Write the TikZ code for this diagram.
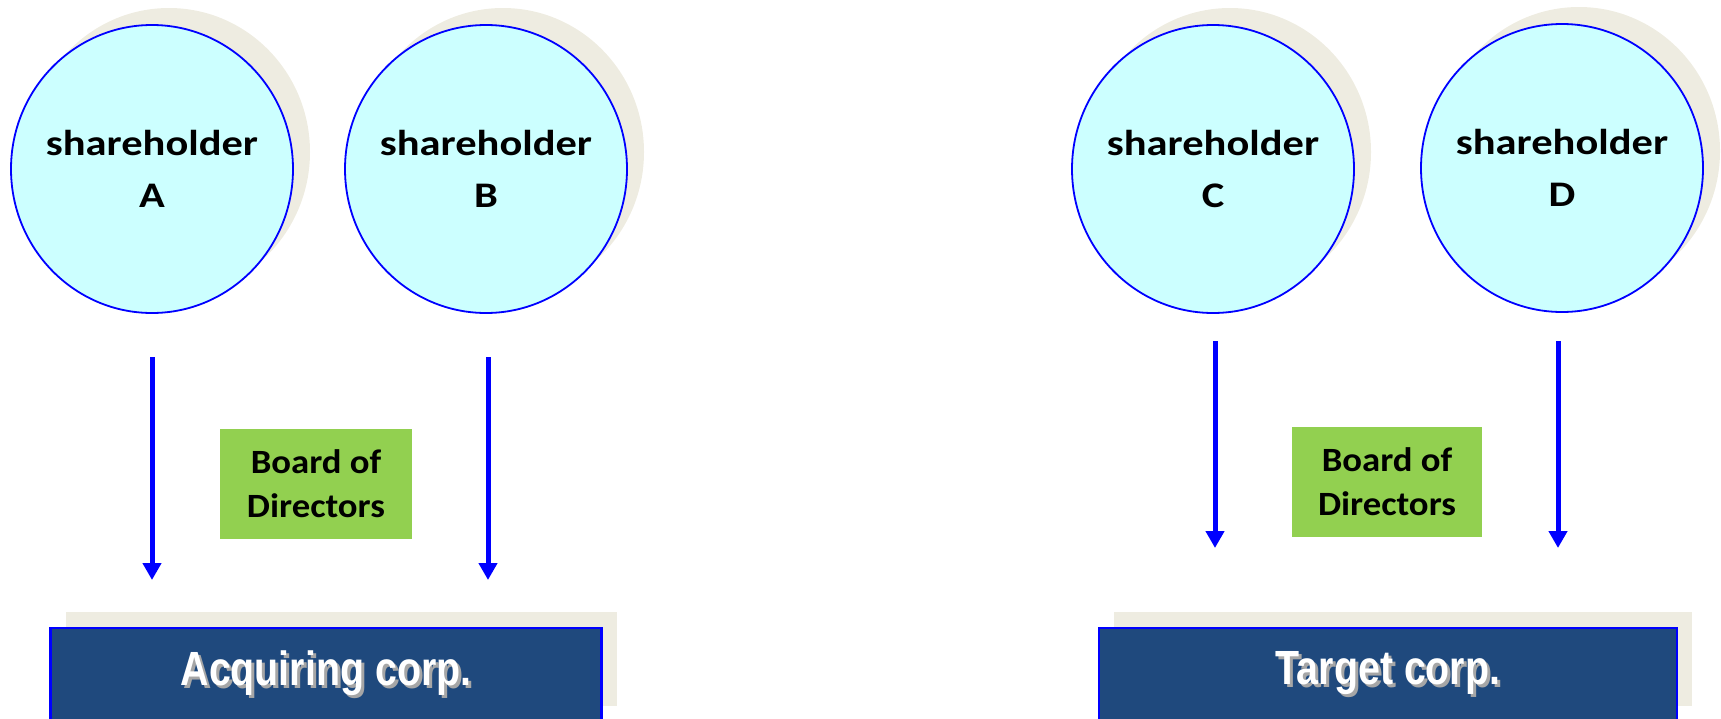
\documentclass[tikz,border=0pt]{standalone}
\usepackage{fontspec}
\setmainfont{Carlito}
\newfontfamily\holderfont[FakeStretch=1.18]{Carlito}
\newfontfamily\boardfont[FakeStretch=1.08]{Carlito}
\newfontfamily\narrowfont[FakeStretch=0.82]{Liberation Sans}
\usepackage{xcolor}
\usetikzlibrary{
  arrows.meta,
  shapes.geometric,
  shadows}
\definecolor{holderfill}{HTML}{CCFFFF}
\definecolor{shadowgray}{HTML}{EEECE1}
\definecolor{boardgreen}{HTML}{92D050}
\definecolor{corpblue}{HTML}{1F497D}
\definecolor{linkblue}{RGB}{0,0,255}
\newcommand{\corptext}[1]{\makebox[0pt][l]{\hspace{3pt}\raisebox{-3pt}{\color{black!35}#1}}#1}

\begin{document}
\begin{tikzpicture}[x=1pt,y=-1pt,>={Triangle[length=17pt,width=18pt]},
    holder/.style={ellipse,draw=linkblue,line width=1.8pt,fill=holderfill,
      minimum width=282pt,minimum height=288pt,inner xsep=-12pt,inner ysep=0pt,align=center,
      font=\holderfont\bfseries\fontsize{36}{52}\selectfont,
      drop shadow={shadow xshift=17pt,shadow yshift=17pt,fill=shadowgray,opacity=1}},
    board/.style={rectangle,fill=boardgreen,minimum width=192pt,minimum height=110pt,
      inner sep=0pt,align=center,font=\boardfont\bfseries\fontsize{34}{44}\selectfont},
    corp/.style={rectangle,draw=linkblue,line width=2.5pt,fill=corpblue,text=white,
      minimum height=94pt,inner sep=0pt,font=\narrowfont\bfseries\fontsize{48}{50}\selectfont,
      drop shadow={shadow xshift=15pt,shadow yshift=16pt,fill=shadowgray,opacity=1}},
    link/.style={->,draw=linkblue,line width=5pt}]
        \useasboundingbox (0,0) rectangle (1721,718);
        % Nodes
        \node(holderA) at (152,169)[holder] {shareholder\\A};
        \node(holderB) at (486,169)[holder] {shareholder\\B};
        \node(holderC) at (1213,169)[holder] {shareholder\\C};
        \node(holderD) at (1562,168)[holder] {shareholder\\D};
        \node(boardAcq) at (316,484)[board] {Board of\\Directors};
        \node(boardTgt) at (1387,482)[board,minimum width=190pt] {Board of\\Directors};
        \node(acquiring) at (326,675)[corp,minimum width=551pt] {\corptext{Acquiring corp.}};
        \node(target) at (1388,675)[corp,minimum width=578pt] {\corptext{Target corp.}};
        % Links
        \coordinate (fromA) at (152,357);
        \coordinate (toA) at (152,580);
        \coordinate (fromB) at (488,357);
        \coordinate (toB) at (488,580);
        \coordinate (fromC) at (1215,341);
        \coordinate (toC) at (1215,548);
        \coordinate (fromD) at (1558,341);
        \coordinate (toD) at (1558,548);
        \draw[link] (fromA) -- (toA);
        \draw[link] (fromB) -- (toB);
        \draw[link] (fromC) -- (toC);
        \draw[link] (fromD) -- (toD);
    \end{tikzpicture}
\end{document}
